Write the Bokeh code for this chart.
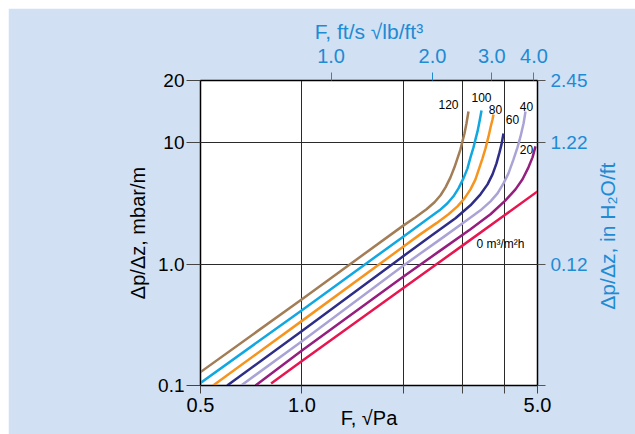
import math
from bokeh.plotting import figure
from bokeh.layouts import column, row
from bokeh.models import (Range1d, LogScale, LogAxis, FixedTicker, Label,
                          ColumnDataSource, Spacer)
from bokeh.embed import file_html
from bokeh.resources import INLINE
from bokeh.core.properties import value

# ---------------- data ----------------
# F factor in sqrt(Pa); pressure drop in mbar/m; one series per liquid load
load_labels = ["120", "100", "80", "60", "40", "20", "0 m\u00b3/m\u00b2h"]

F_120 = [0.5, 1.0, 1.988, 2.173, 2.342, 2.474, 2.578, 2.667, 2.759, 2.835,
         2.894, 2.954, 2.994, 3.036, 3.077, 3.120]
dp_120 = [0.129, 0.515, 2.06, 2.44, 2.84, 3.24, 3.70, 4.30, 5.20, 6.29,
          7.46, 8.84, 10.29, 11.97, 14.47, 18.17]

F_100 = [0.5, 1.0, 1.988, 2.173, 2.374, 2.560, 2.703, 2.816, 2.914, 3.015,
         3.099, 3.163, 3.229, 3.273, 3.319, 3.364, 3.411]
dp_100 = [0.105, 0.418, 1.67, 2.00, 2.39, 2.78, 3.18, 3.63, 4.22, 5.10,
          6.17, 7.60, 9.18, 10.69, 12.44, 15.03, 18.51]

F_80 = [0.545, 1.0, 1.988, 2.248, 2.507, 2.722, 2.894, 3.036, 3.163, 3.273,
        3.364, 3.434, 3.505, 3.578, 3.627, 3.677, 3.702]
dp_80 = [0.10, 0.341, 1.38, 1.77, 2.18, 2.58, 3.00, 3.49, 4.14, 5.01,
         6.29, 7.46, 9.01, 11.31, 13.41, 15.61, 17.16]

F_60 = [0.600, 1.0, 1.988, 2.407, 2.855, 3.163, 3.387, 3.554, 3.677, 3.778,
        3.857, 3.910, 3.963]
dp_60 = [0.10, 0.281, 1.153, 1.70, 2.39, 3.06, 3.77, 4.55, 5.50, 6.78,
         8.35, 9.72, 11.97]

F_40 = [0.660, 1.0, 1.988, 2.578, 3.056, 3.387, 3.627, 3.805, 3.963, 4.101,
        4.244, 4.362, 4.452, 4.545, 4.607]
dp_40 = [0.10, 0.232, 0.963, 1.61, 2.26, 2.78, 3.30, 3.84, 4.64, 5.61,
         7.31, 9.18, 11.31, 14.47, 18.17]

F_20 = [0.728, 1.0, 1.988, 2.578, 3.163, 3.627, 4.018, 4.302, 4.514, 4.701,
        4.833, 4.932]
dp_20 = [0.10, 0.194, 0.782, 1.30, 1.94, 2.58, 3.36, 4.14, 5.01, 6.29,
         7.60, 9.36]

F_0 = [0.81, 1.0, 2.0, 3.0, 4.0, 5.0]
dp_0 = [0.104, 0.159, 0.636, 1.43, 2.54, 3.98]

# axis ticks and their labels
x_ticks = [0.5, 1, 2, 3, 4, 5]
x_tick_labels = ["0.5", "1.0", "", "", "", "5.0"]
# the reference labels its top edge "20" / "2.45"
y_ticks = [0.1, 1, 10, 32.7]
y_tick_labels = ["0.1", "1.0", "10", "20"]
y2_tick_labels = ["", "0.12", "1.22", "2.45"]
top_ticks = [1, 2, 3, 4]
top_tick_labels = ["1.0", "2.0", "3.0", "4.0"]
SI_PER_FT = 1.22   # sqrt(Pa) per ft/s*sqrt(lb/ft3)
RIGHT_TITLE = "\u0394p/\u0394z, in H\u2082O/ft"

# ---------------- styling ----------------
BG = "#D1E0F3"
BLUE = "#1E8BD3"
FONT = "Liberation Sans"
colors = ["#A27D55", "#11A7E1", "#F7941E", "#2E2D87", "#A9A3D6", "#951E7E", "#E8154F"]
label_dx = [-20, 0, 2, 9, 1, -9, -37]
label_dy = [-7, -13, -5, -14, -5, 3, 53]

p = figure(width=627, height=426, x_axis_type="log", y_axis_type="log",
           x_range=Range1d(0.5, 5.0), y_range=Range1d(0.1, 32.7),
           output_backend="svg", toolbar_location=None,
           min_border_left=192, min_border_right=98, min_border_top=72,
           min_border_bottom=49,
           background_fill_color="white", border_fill_color=BG,
           outline_line_color="black", outline_line_width=1.5)

# grid
p.xgrid.ticker = FixedTicker(ticks=[1, 2, 3, 4])
p.ygrid.ticker = FixedTicker(ticks=[1, 10])
p.grid.grid_line_color = "#2a2a2a"
p.grid.grid_line_width = 1

def style_axis(ax, color, tick_color, out, size):
    ax.major_label_text_font = FONT
    ax.major_label_text_font_size = size
    ax.major_label_text_color = color
    ax.axis_label_text_font = FONT
    ax.axis_label_text_font_size = "20px"
    ax.axis_label_text_font_style = "normal"
    ax.axis_label_text_color = color
    ax.major_tick_line_color = tick_color
    ax.major_tick_in = 0
    ax.major_tick_out = out
    ax.minor_tick_line_color = None

# bottom axis
xa = p.xaxis[0]
xa.ticker = FixedTicker(ticks=x_ticks, minor_ticks=[])
xa.major_label_overrides = dict(zip(x_ticks, x_tick_labels))
xa.axis_label = "F, \u221aPa"
style_axis(xa, "black", "#444444", 8, "20px")
xa.axis_line_color = "black"
xa.major_label_standoff = 4
xa.axis_label_standoff = -8

# left axis
ya = p.yaxis[0]
ya.ticker = FixedTicker(ticks=y_ticks, minor_ticks=[])
ya.major_label_overrides = dict(zip(y_ticks, y_tick_labels))
ya.axis_label = "\u0394p/\u0394z, mbar/m"
style_axis(ya, "black", "#444444", 14, "19px")
ya.axis_line_color = "black"
ya.major_label_standoff = 2
ya.axis_label_standoff = 6

# right axis (in H2O/ft), title reading bottom-to-top
ra = LogAxis(ticker=FixedTicker(ticks=y_ticks, minor_ticks=[]),
             major_label_overrides=dict(zip(y_ticks, y2_tick_labels)),
             axis_label=RIGHT_TITLE)
style_axis(ra, BLUE, "#555555", 8, "19px")
ra.axis_label_text_font_size = "21px"
ra.axis_line_color = "black"
ra.major_label_standoff = 5
ra.axis_label_standoff = 17
props = ra.properties()
if "axis_label_orientation" in props:
    ra.axis_label_orientation = math.pi / 2
    if "axis_label_align" in props:
        # rotated label starts at the axis start; pad so it sits centred
        ra.axis_label_align = "start"
        ra.axis_label = "\u00a0" * 13 + RIGHT_TITLE
p.add_layout(ra, "right")

# top axis (F in ft/s sqrt(lb/ft3))
p.extra_x_ranges = {"ft": Range1d(0.5 / SI_PER_FT, 5.0 / SI_PER_FT)}
p.extra_x_scales = {"ft": LogScale()}
ta = LogAxis(x_range_name="ft",
             ticker=FixedTicker(ticks=top_ticks, minor_ticks=[]),
             major_label_overrides=dict(zip(top_ticks, top_tick_labels)),
             axis_label="F, ft/s \u221alb/ft\u00b3")
style_axis(ta, BLUE, BLUE, 8, "20px")
ta.axis_label_text_font_size = "21px"
ta.axis_line_color = "black"
ta.major_label_standoff = 10
ta.axis_label_standoff = 3
p.add_layout(ta, "above")

# curves
series = [(F_120, dp_120), (F_100, dp_100), (F_80, dp_80), (F_60, dp_60),
          (F_40, dp_40), (F_20, dp_20), (F_0, dp_0)]
for (fx, dy), c in zip(series, colors):
    p.line(fx, dy, line_color=c, line_width=2.5, line_join="round")

# curve labels anchored at each curve's last point
src = ColumnDataSource(dict(
    x=[s[0][-1] for s in series],
    y=[s[1][-1] for s in series],
    text=load_labels, dx=label_dx, dy=label_dy))
p.text(x="x", y="y", text="text", x_offset="dx", y_offset="dy", source=src,
       text_align="center", text_baseline="middle",
       text_font=value(FONT), text_font_size="12px", text_color="black")

# chart title (screen units relative to the plot frame's bottom-left corner)
p.add_layout(Label(x=-176, y=343, x_units="screen", y_units="screen",
                   text="NXR #3", text_font=FONT, text_font_size="24px",
                   text_font_style="bold", text_color="black",
                   text_baseline="alphabetic"))

page = column(Spacer(height=8), row(Spacer(width=8), p))
open("out.html", "w").write(file_html(page, INLINE))
